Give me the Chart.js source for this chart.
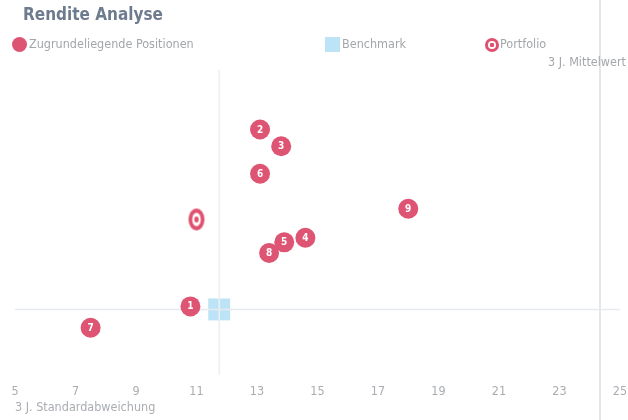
<!DOCTYPE html>
<html>
<head>
<meta charset="utf-8">
<script src="https://cdn.jsdelivr.net/npm/chart.js@4"></script>
<style>
  body { margin: 0; background: #fff; }
  #wrap { position: relative; width: 628px; height: 420px; overflow: hidden;
          font-family: "Liberation Sans Narrow", "DejaVu Sans Condensed", "Roboto", sans-serif; }
  #chart { position: absolute; left: 0; top: 0; }
  .title { position: absolute; left: 23px; top: 4px; font-size: 17px; font-weight: bold; color: #6e7b8e; }
  .leg { position: absolute; top: 36px; font-size: 12.5px; color: #a3a7ab; line-height: 16px; }
  .dot { display: inline-block; vertical-align: middle; }
  .ytitle { position: absolute; right: 2px; top: 54px; font-size: 12.5px; color: #a3a7ab; }
  .frame { position: absolute; left: 599px; top: 0; width: 1.5px; height: 420px; background: #e4e6e8; }
</style>
</head>
<body>
<div id="wrap">
  <canvas id="chart" width="628" height="420"></canvas>
  <div class="frame"></div>
  <div class="title">Rendite Analyse</div>
  <div class="leg" style="left:12px"><span class="dot" style="width:15px;height:15px;border-radius:50%;background:#de5574;margin-right:2px"></span>Zugrundeliegende Positionen</div>
  <div class="leg" style="left:325px"><span class="dot" style="width:15px;height:15px;background:#bde3f6;margin-right:2px"></span>Benchmark</div>
  <div class="leg" style="left:485px"><span class="dot" style="width:8px;height:8px;border-radius:50%;border:3px solid #e0506f;background:radial-gradient(circle,#e0506f 0 2px,#fff 2.5px);margin-right:1px"></span>Portfolio</div>
  <div class="ytitle">3 J. Mittelwert</div>
</div>
<script>
// Standardabweichung (x) und Mittelwert (y) der Positionen
let posLabels = ['1', '2', '3', '4', '5', '6', '7', '8', '9'];
let posRisk   = [10.8, 13.1, 13.8, 14.6, 13.9, 13.1, 7.5, 13.4, 18.0];
let posReturn = [2.25, 8.05, 7.5, 4.5, 4.35, 6.6, 1.55, 4.0, 5.45];

let benchRisk = 11.75, benchReturn = 2.15;
let portRisk = 11.0, portReturn = 5.1;

let xTicks = [5, 7, 9, 11, 13, 15, 17, 19, 21, 23, 25];
let yMin = 0, yMax = 10;

const pink = '#de5574';
const font = '"Liberation Sans Narrow", "DejaVu Sans Condensed", Roboto, sans-serif';

let posData = posRisk.map((x, i) => ({ x: x, y: posReturn[i] }));

// ring-shaped portfolio marker
function portfolioMarker() {
  const c = document.createElement('canvas');
  c.width = 18; c.height = 24;
  const g = c.getContext('2d');
  g.fillStyle = '#e0506f';
  g.beginPath(); g.ellipse(9, 12, 8, 11, 0, 0, Math.PI * 2); g.fill();
  g.fillStyle = '#fff';
  g.beginPath(); g.ellipse(9, 12, 4.3, 6.8, 0, 0, Math.PI * 2); g.fill();
  g.fillStyle = '#e0506f';
  g.beginPath(); g.ellipse(9, 12, 2.2, 3, 0, 0, Math.PI * 2); g.fill();
  return c;
}

const numberLabels = {
  id: 'numberLabels',
  afterDatasetsDraw(chart) {
    const meta = chart.getDatasetMeta(0);
    const ctx = chart.ctx;
    ctx.save();
    ctx.fillStyle = '#fff';
    ctx.font = 'bold 10px ' + font;
    ctx.textAlign = 'center';
    ctx.textBaseline = 'middle';
    meta.data.forEach((pt, i) => ctx.fillText(posLabels[i], pt.x, pt.y + 0.5));
    ctx.restore();
  }
};

new Chart(document.getElementById('chart'), {
  type: 'scatter',
  data: {
    datasets: [
      {
        label: 'Zugrundeliegende Positionen',
        data: posData,
        backgroundColor: pink,
        borderWidth: 0,
        pointRadius: 10,
        pointHoverRadius: 10,
        order: 0
      },
      {
        label: 'Portfolio',
        data: [{ x: portRisk, y: portReturn }],
        pointStyle: portfolioMarker(),
        order: 1
      },
      {
        type: 'line',
        label: 'h',
        data: [{ x: xTicks[0], y: benchReturn }, { x: xTicks[xTicks.length - 1], y: benchReturn }],
        borderColor: '#e6eaee',
        borderWidth: 1.5,
        pointRadius: 0,
        order: 2
      },
      {
        type: 'line',
        label: 'v',
        data: [{ x: benchRisk, y: yMin }, { x: benchRisk, y: yMax }],
        borderColor: '#eceff2',
        borderWidth: 1.5,
        pointRadius: 0,
        order: 2
      },
      {
        label: 'Benchmark',
        data: [{ x: benchRisk, y: benchReturn }],
        pointStyle: 'rect',
        pointRadius: 15.5,
        backgroundColor: '#bde3f6',
        borderWidth: 0,
        order: 3
      }
    ]
  },
  options: {
    responsive: false,
    animation: false,
    layout: { autoPadding: false, padding: { left: 15, right: 0, top: 70, bottom: 6 } },
    plugins: {
      legend: { display: false },
      tooltip: { enabled: false }
    },
    scales: {
      x: {
        type: 'linear',
        min: xTicks[0],
        max: xTicks[xTicks.length - 1],
        afterBuildTicks: (axis) => { axis.ticks = xTicks.map(v => ({ value: v })); },
        afterFit: (axis) => { axis.paddingLeft = 0; axis.paddingRight = 8; },
        grid: { display: false, drawTicks: false, tickLength: 0 },
        border: { display: false },
        ticks: { color: '#a9adb1', font: { family: font, size: 12.5, lineHeight: 1 }, padding: 10, maxRotation: 0 },
        title: {
          display: true,
          text: '3 J. Standardabweichung',
          align: 'start',
          color: '#a9adb1',
          font: { family: font, size: 12.5, lineHeight: 1 },
          padding: { top: -6, bottom: 0 }
        }
      },
      y: {
        display: false,
        min: yMin,
        max: yMax
      }
    }
  },
  plugins: [numberLabels]
});
</script>
</body>
</html>
